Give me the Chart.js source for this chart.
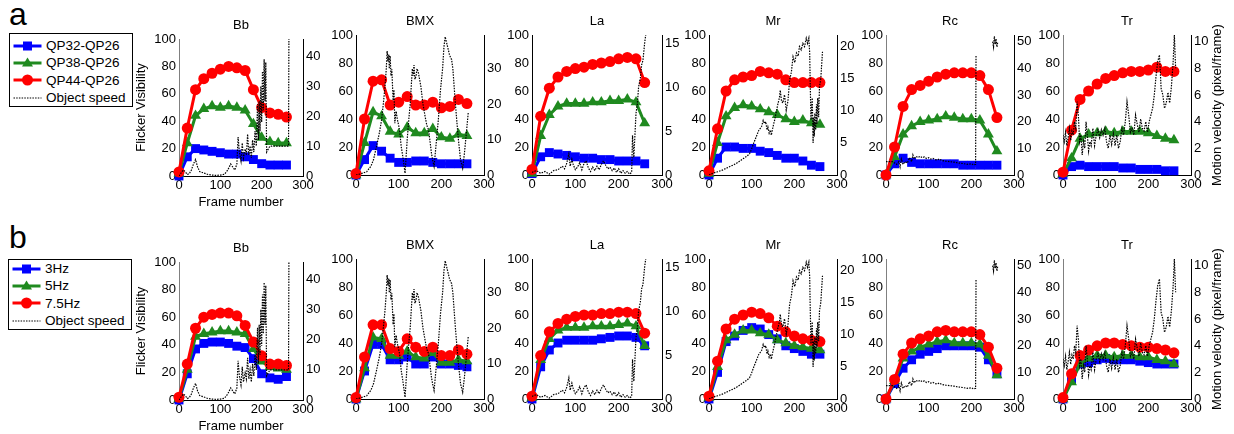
<!DOCTYPE html>
<html>
<head>
<meta charset="utf-8">
<script src="https://cdn.jsdelivr.net/npm/chart.js"></script>
<style>
  body { margin: 0; background: #fff; width: 1234px; height: 434px; position: relative; overflow: hidden;
         font-family: "Liberation Sans", Arial, Helvetica, sans-serif; }
  .panel { position: absolute; }
  .tag { position: absolute; left: 9px; font-size: 32px; line-height: 32px; }
  .legend { position: absolute; width: 124px; border: 1.5px solid #000; box-sizing: border-box;
            padding-left: 3px; background: #fff; }
  .item { height: 17.3px; display: flex; align-items: center; font-size: 13.5px; }
  .item svg { margin-right: 2px; }
</style>
</head>
<body>
<div class="tag" style="top:-2px">a</div>
<div class="tag" style="top:221px">b</div>

<script>
const videos = ['Bb', 'BMX', 'La', 'Mr', 'Rc', 'Tr'];
const frames = [0, 20, 40, 60, 80, 100, 120, 140, 160, 180, 200, 220, 240, 260];

// row a: flicker visibility per QP pair
const qp32 = [
  [0, 14, 20, 19, 18, 17, 16, 16, 14, 12, 9, 8, 8, 8],
  [0, 11, 21, 17, 12, 9, 9, 10, 10, 9, 8, 8, 8, 8],
  [1, 13, 16, 15, 14, 13, 12, 12, 11, 11, 10, 10, 10, 8],
  [0, 12, 20, 20, 19, 19, 17, 16, 14, 12, 12, 10, 7, 6],
  [0, 8, 12, 9, 8, 8, 8, 8, 8, 7, 7, 7, 7, 7],
  [0, 6, 7, 6, 6, 6, 6, 5, 5, 4, 4, 4, 3, 3]
];
const qp38 = [
  [2, 24, 44, 49, 51, 50, 51, 50, 48, 38, 28, 25, 24, 24],
  [0, 23, 45, 42, 31, 29, 34, 30, 30, 33, 27, 26, 29, 28],
  [1, 28, 43, 49, 51, 51, 51, 52, 52, 53, 53, 54, 52, 37],
  [1, 23, 42, 48, 50, 49, 47, 45, 43, 40, 38, 39, 37, 36],
  [0, 13, 29, 35, 38, 39, 40, 42, 41, 40, 40, 39, 29, 17],
  [1, 12, 26, 29, 30, 31, 30, 31, 31, 31, 30, 28, 26, 25]
];
const qp44 = [
  [3, 35, 63, 71, 75, 78, 80, 79, 77, 63, 50, 46, 45, 43],
  [1, 40, 67, 68, 50, 52, 56, 50, 50, 52, 48, 49, 54, 51],
  [4, 42, 62, 70, 74, 76, 77, 79, 80, 81, 83, 84, 83, 66],
  [3, 33, 60, 68, 70, 71, 74, 73, 72, 68, 66, 66, 66, 66],
  [0, 20, 49, 61, 64, 67, 70, 72, 73, 73, 73, 71, 61, 41],
  [2, 32, 54, 60, 65, 69, 71, 73, 74, 74, 75, 77, 74, 74]
];

// row b: flicker visibility per flicker frequency
const hz3 = [
  [0, 19, 37, 41, 42, 42, 41, 39, 38, 30, 19, 16, 15, 17],
  [0, 20, 39, 39, 28, 28, 30, 25, 25, 30, 25, 25, 24, 23],
  [0, 23, 35, 40, 42, 42, 42, 42, 43, 44, 45, 45, 44, 38],
  [0, 19, 41, 45, 49, 51, 50, 46, 43, 38, 36, 34, 32, 32],
  [0, 11, 22, 28, 32, 34, 36, 38, 38, 38, 38, 37, 28, 18],
  [0, 14, 25, 26, 28, 29, 28, 28, 28, 27, 26, 25, 25, 25]
];
const hz5 = [
  [1, 22, 46, 48, 49, 50, 50, 49, 48, 37, 28, 24, 23, 22],
  [0, 22, 44, 43, 31, 31, 34, 30, 29, 33, 26, 26, 28, 27],
  [1, 28, 43, 49, 51, 51, 51, 52, 52, 52, 53, 54, 52, 38],
  [1, 23, 42, 46, 49, 49, 47, 46, 42, 40, 38, 37, 36, 35],
  [0, 13, 29, 34, 37, 39, 41, 42, 40, 40, 40, 39, 31, 17],
  [0, 12, 25, 29, 31, 31, 30, 31, 31, 30, 30, 28, 27, 25]
];
const hz75 = [
  [2, 26, 52, 60, 62, 63, 63, 61, 54, 42, 32, 26, 26, 25],
  [1, 30, 53, 53, 36, 34, 43, 37, 34, 37, 31, 31, 35, 32],
  [2, 31, 48, 54, 57, 59, 60, 60, 61, 61, 62, 62, 61, 47],
  [2, 27, 50, 57, 60, 62, 61, 58, 52, 48, 45, 43, 42, 41],
  [0, 14, 32, 40, 43, 45, 48, 49, 48, 48, 48, 46, 37, 22],
  [1, 18, 31, 35, 38, 40, 40, 39, 38, 37, 37, 36, 35, 33]
];

// object speed (pixel/frame), same clip in both rows
const speedFrames = [
  [0, 5, 10, 15, 20, 25, 30, 35, 40, 45, 50, 60, 70, 80, 90, 100, 110, 118, 125, 130,
   135, 140, 143, 146, 150, 153, 156, 160, 163, 166, 169, 172, 175, 178, 181, 184, 187, 190, 192, 194,
   196, 198, 200, 202, 204, 206, 208, 210, 212, 220, 240, 260, 265, 266],
  [0, 10, 25, 35, 41, 48, 55, 60, 64, 68, 71, 73, 75, 77, 78, 80, 82, 84, 87, 89,
   91, 94, 97, 100, 102, 106, 110, 115, 120, 124, 127, 130, 132, 134, 136, 138, 141, 143, 146, 149,
   152, 157, 162, 166, 170, 174, 177, 180, 183, 188, 193, 198, 203, 206, 209, 211, 213, 216, 219, 222,
   224, 227, 230, 233, 236, 240, 245, 250, 254, 258, 263],
  [0, 10, 20, 30, 40, 50, 60, 70, 75, 80, 85, 88, 92, 95, 100, 105, 110, 115, 120, 125,
   130, 135, 140, 145, 150, 155, 160, 165, 170, 175, 180, 185, 190, 195, 200, 205, 210, 215, 220, 225,
   230, 232, 235, 238, 240, 243, 246, 250, 253, 256, 260, 264],
  [0, 10, 20, 33, 45, 55, 64, 75, 88, 95, 99, 105, 111, 117, 123, 127, 130, 133, 136, 138,
   141, 144, 146, 150, 154, 158, 162, 165, 167, 170, 173, 177, 181, 185, 189, 193, 197, 201, 205, 209,
   212, 216, 220, 224, 228, 231, 234, 236, 237, 239, 242, 244, 245, 247, 248, 250, 252, 253, 255, 257,
   259, 262, 266],
  [0, 5, 10, 15, 20, 25, 30, 33, 36, 40, 45, 50, 55, 60, 63, 66, 70, 75, 80, 85,
   90, 95, 100, 105, 110, 115, 120, 125, 130, 140, 150, 160, 170, 180, 190, 200, 205, 210, 211, 212,
   250, 252, 254, 256, 258, 260, 262],
  [0, 3, 6, 9, 12, 15, 18, 21, 24, 27, 30, 33, 36, 39, 42, 45, 48, 51, 54, 57,
   60, 63, 66, 70, 74, 78, 82, 86, 90, 94, 98, 102, 106, 110, 114, 118, 122, 126, 130, 134,
   138, 142, 146, 150, 154, 158, 162, 166, 170, 174, 178, 182, 186, 190, 194, 198, 202, 206, 210, 214,
   218, 222, 226, 230, 234, 238, 242, 246, 250, 254, 258, 261, 264]
];
const speedValues = [
  [0, 1, 2, 1.5, 0.5, 0.8, 2, 4, 5.5, 3, 1.5, 1, 0.5, 0.3, 0.2, 0.3, 0.6, 2, 4, 3,
   2, 4, 13, 8, 5, 11, 6, 9, 7, 14, 7, 10, 6, 12, 8, 15, 10, 24, 12, 25,
   15, 30, 18, 35, 22, 39, 25, 38, 8, 10, 10, 10, 10, 50],
  [0, 0.3, 0.9, 2.5, 4.3, 8, 12, 15.6, 20, 25, 30, 35, 32, 34, 30, 33.6, 28, 29.8, 21, 24,
   14.6, 18, 15.6, 14, 12.8, 8, 5, 0.5, 10, 16, 20, 26, 30, 28, 31, 27, 28, 30, 29, 27,
   25, 20, 16.5, 14, 12.8, 9, 6, 4, 2.4, 9, 15.6, 24, 30, 36, 39, 38, 37, 35.5, 34, 33,
   32.6, 30, 25, 20, 15.6, 10, 4.3, 1.9, 6, 11, 17.5],
  [0.3, 0.5, 0.2, 0.4, 0.1, 0.5, 0.6, 1, 0.7, 1.3, 2.4, 1, 1.8, 1.2, 0.6, 0.9, 1.4, 0.6, 1.3, 1.6,
   0.8, 0.4, 0.9, 0.5, 1, 0.6, 1.2, 1.6, 1.1, 0.7, 0.9, 0.5, 0.8, 0.3, 0.7, 0.2, 0.5, 0.2, 0.4, 0.1,
   0.3, 4.5, 2, 5, 7, 8, 10, 11, 12.5, 13, 15, 16.5],
  [0, 0.3, 0.5, 0.8, 1.2, 1.5, 1.8, 2.3, 2.9, 3.3, 3.9, 5, 6, 7, 7.5, 8.5, 8, 8.3, 7, 7.5,
   6.5, 7, 6.2, 7.5, 8.6, 10, 11.2, 12, 13.2, 11.5, 11.2, 12.5, 10.1, 11.5, 14.8, 16, 18.4, 17.5, 19, 18.5,
   20, 19.5, 20.5, 20, 21.3, 20.5, 21.3, 19, 15, 8.6, 12, 5, 9, 6, 9.6, 7, 11, 8, 12, 9,
   13.8, 15, 19.2],
  [5, 5, 5, 5, 4.5, 4, 5, 3, 6, 4, 5, 4.5, 6.5, 5, 7.5, 6, 7, 6.5, 7, 6.5,
   6.8, 6.2, 6.5, 6, 6.2, 5.8, 5.6, 6, 5.5, 5.2, 5, 4.8, 4.5, 4.3, 4, 4.2, 3.8, 4, 45, null,
   50, 48, 52, 49, 51, 48, 50],
  [3, 2.5, 3.2, 2.2, 2.8, 3.5, 2.6, 3.3, 3, 4, 3.5, 5.5, 4.5, 2.5, 3, 1.5, 2.5, 2, 4, 3,
   1.8, 2.5, 2.2, 3.5, 2.2, 3, 3.4, 2.8, 3.4, 3, 3.5, 2.5, 2, 3, 2.3, 3.1, 2.2, 3, 2, 2.5,
   3.5, 3, 4, 5.5, 4.5, 3.2, 3.5, 3, 4.5, 3.8, 3.2, 4.2, 3.5, 3.3, 4, 3.2, 4, 4.5, 5, 6,
   7.4, 8.5, 9, 6.5, 6, 5, 5.4, 6.2, 5.4, 6.6, 8.4, 10.5, 8]
];
const speedMax = [45.8, 39.5, 15.9, 21.8, 52.5, 10.5];
const speedStep = [10, 10, 5, 5, 10, 2];

const legendA = ['QP32-QP26', 'QP38-QP26', 'QP44-QP26', 'Object speed'];
const legendB = ['3Hz', '5Hz', '7.5Hz', 'Object speed'];

// layout (pixels)
const plotLeft = [179, 356, 532, 709, 886, 1063];
const plotWidth = [124, 128, 130, 128, 128, 128];
const rowTop = [[39, 35, 35, 35, 35, 35], [262, 259, 259, 259, 259, 259]];
const rowBottom = [[176, 175, 175, 175, 175, 175], [400, 399, 399, 399, 399, 399]];
const leftAxisColor = ['#808080', '#000', '#000', '#000', '#808080', '#808080'];

const FONT = '"Liberation Sans", Arial, Helvetica, sans-serif';
Chart.defaults.font.family = FONT;
Chart.defaults.font.size = 13;
Chart.defaults.color = '#000';

const lineStyles = [
  { color: '#0000ff', pointStyle: 'rect', radius: 6.3 },
  { color: '#1f8a1f', pointStyle: 'triangle', radius: 6.3 },
  { color: '#ff0000', pointStyle: 'circle', radius: 5.5 }
];

const panelText = {
  id: 'panelText',
  afterDraw(chart, args, opts) {
    const { ctx, chartArea: a } = chart;
    ctx.save();
    ctx.fillStyle = '#000';
    ctx.font = '13px ' + FONT;
    ctx.textAlign = 'center';
    ctx.textBaseline = 'middle';
    ctx.fillText(opts.title, (a.left + a.right) / 2, a.top - 14);
    if (opts.rightTitle) {
      ctx.translate(a.right + 26, (a.top + a.bottom) / 2);
      ctx.rotate(-Math.PI / 2);
      ctx.fillText(opts.rightTitle, 0, 0);
    }
    ctx.restore();
  }
};

function makePanel(row, i) {
  const first = i === 0, last = i === 5;
  const leftW = first ? 45 : 32;
  const rightW = last ? 45 : 28;
  const xH = first ? 34 : 18;
  const top = rowTop[row][i], bottom = rowBottom[row][i];
  const w = leftW + plotWidth[i] + rightW;
  const h = 30 + (bottom - top) + xH;

  const div = document.createElement('div');
  div.className = 'panel';
  div.style.left = (plotLeft[i] - leftW) + 'px';
  div.style.top = (top - 30) + 'px';
  const canvas = document.createElement('canvas');
  canvas.width = w;
  canvas.height = h;
  canvas.style.width = w + 'px';
  canvas.style.height = h + 'px';
  div.appendChild(canvas);
  document.body.appendChild(div);

  const series = row === 0 ? [qp32[i], qp38[i], qp44[i]] : [hz3[i], hz5[i], hz75[i]];
  const datasets = [{
    data: speedFrames[i].map((f, k) => ({ x: f, y: speedValues[i][k] })),
    yAxisID: 'y2',
    borderColor: '#000',
    borderWidth: 1.2,
    borderDash: [1.5, 1.2],
    pointRadius: 0,
    spanGaps: false,
    order: 0
  }];
  series.forEach((vals, s) => {
    const st = lineStyles[s];
    datasets.push({
      data: frames.map((f, k) => ({ x: f, y: vals[k] })),
      yAxisID: 'y',
      borderColor: st.color,
      backgroundColor: st.color,
      borderWidth: 3,
      pointStyle: st.pointStyle,
      pointRadius: st.radius,
      pointBorderWidth: 0,
      clip: 10,
      order: 3 - s
    });
  });

  new Chart(canvas.getContext('2d'), {
    type: 'line',
    data: { datasets },
    plugins: [panelText],
    options: {
      responsive: false,
      animation: false,
      layout: { padding: { top: 30, left: 0, right: 0, bottom: 0 } },
      plugins: {
        legend: { display: false },
        tooltip: { enabled: false },
        panelText: { title: videos[i], rightTitle: last ? 'Motion velocity (pixel/frame)' : null }
      },
      scales: {
        x: {
          type: 'linear', min: 0, max: 300,
          ticks: { stepSize: 100, padding: 2, maxRotation: 0 },
          grid: { display: false, drawTicks: false },
          border: { display: true, color: '#000', width: 1 },
          title: { display: first, text: 'Frame number', padding: { top: 0, bottom: 0 } },
          afterFit: (sc) => { sc.height = xH; }
        },
        y: {
          position: 'left', min: 0, max: 100,
          ticks: { stepSize: 20, padding: 3 },
          grid: { display: false, drawTicks: false },
          border: { display: true, color: leftAxisColor[i], width: 1 },
          title: { display: first, text: 'Flicker Visibility', padding: { top: 0, bottom: 0 } },
          afterFit: (sc) => { sc.width = leftW; }
        },
        y2: {
          position: 'right', min: 0, max: speedMax[i],
          ticks: { stepSize: speedStep[i], padding: 3 },
          grid: { display: false, drawTicks: false },
          border: { display: true, color: '#000', width: 1 },
          afterBuildTicks: (sc) => {
            const step = speedStep[i];
            const ticks = [];
            for (let v = 0; v <= speedMax[i] + 1e-9; v += step) ticks.push({ value: v });
            sc.ticks = ticks;
          },
          afterFit: (sc) => { sc.width = rightW; }
        }
      }
    }
  });
}

function symbolSvg(k) {
  if (k === 3) {
    return '<line x1="0.5" y1="7" x2="28.5" y2="7" stroke="#000" stroke-width="1.2" stroke-dasharray="1.5 1.2"/>';
  }
  const st = lineStyles[k];
  let mark;
  if (k === 0) mark = '<rect x="10" y="2.5" width="9" height="9" fill="' + st.color + '"/>';
  else if (k === 1) mark = '<polygon points="14.5,1.5 20,10.5 9,10.5" fill="' + st.color + '"/>';
  else mark = '<circle cx="14.5" cy="7" r="5.5" fill="' + st.color + '"/>';
  return '<line x1="0.5" y1="7" x2="28.5" y2="7" stroke="' + st.color + '" stroke-width="3"/>' + mark;
}

function makeLegend(labels, left, top, padTop) {
  const box = document.createElement('div');
  box.className = 'legend';
  box.style.left = left + 'px';
  box.style.top = top + 'px';
  box.style.paddingTop = padTop + 'px';
  labels.forEach((lab, k) => {
    const item = document.createElement('div');
    item.className = 'item';
    item.innerHTML = '<svg width="31" height="14">' + symbolSvg(k) + '</svg><span>' + lab + '</span>';
    box.appendChild(item);
  });
  document.body.appendChild(box);
}

makeLegend(legendA, 9, 33, 3);
makeLegend(legendB, 8, 259, 0);
for (let r = 0; r < 2; r++) {
  for (let i = 0; i < videos.length; i++) makePanel(r, i);
}
</script>
</body>
</html>
